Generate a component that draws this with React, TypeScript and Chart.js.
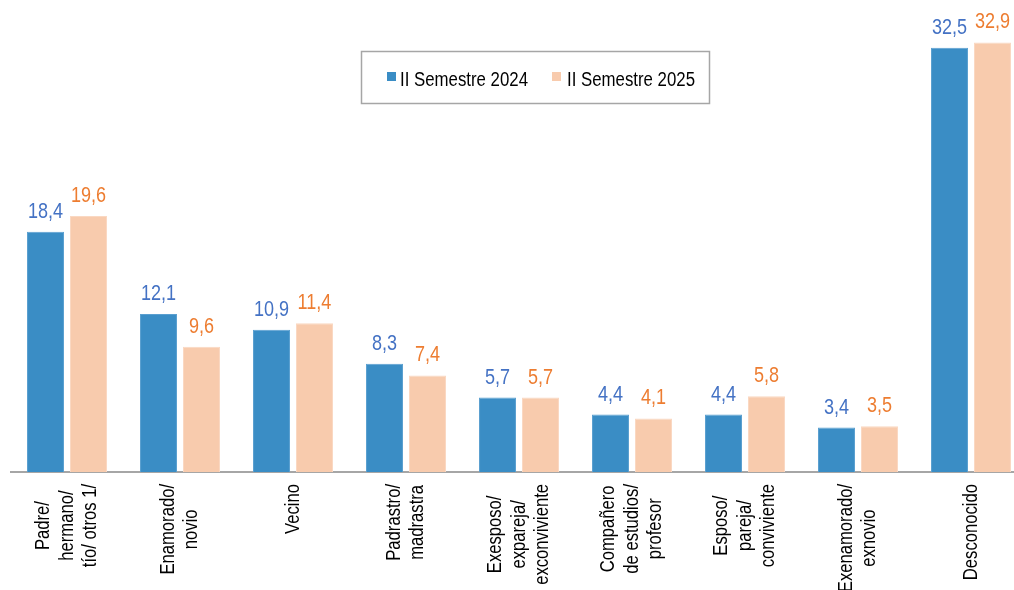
import React, { useEffect, useRef } from "react";
import { Chart, registerables } from "chart.js";

Chart.register(...registerables);

const categories: string[][] = [
  ["Padre/", "hermano/", "tío/ otros 1/"],
  ["Enamorado/", "novio"],
  ["Vecino"],
  ["Padrastro/", "madrastra"],
  ["Exesposo/", "expareja/", "exconviviente"],
  ["Compañero", "de estudios/", "profesor"],
  ["Esposo/", "pareja/", "conviviente"],
  ["Exenamorado/", "exnovio"],
  ["Desconocido"],
];
const seriesNames = ["II Semestre 2024", "II Semestre 2025"];
const values2024 = [18.4, 12.1, 10.9, 8.3, 5.7, 4.4, 4.4, 3.4, 32.5];
const values2025 = [19.6, 9.6, 11.4, 7.4, 5.7, 4.1, 5.8, 3.5, 32.9];

const barColors = ["#3A8DC5", "#F8CBAD"];
const barBorders = ["#5A9FD0", "#FAD8C2"];
const labelColors = ["#4472C4", "#ED7D31"];
const FONT = "'Liberation Sans', Arial, sans-serif";
const NARROW = 0.82;

const fmt = (v: number) => v.toFixed(1).replace(".", ",");

function narrowText(
  ctx: CanvasRenderingContext2D,
  text: string,
  x: number,
  y: number,
  rot = 0
) {
  ctx.save();
  ctx.translate(x, y);
  if (rot) ctx.rotate(rot);
  ctx.scale(NARROW, 1);
  ctx.fillText(text, 0, 0);
  ctx.restore();
}

const overlay = {
  id: "overlay",
  afterDatasetsDraw(chart: any) {
    const ctx: CanvasRenderingContext2D = chart.ctx;
    ctx.save();
    // data labels
    chart.data.datasets.forEach((ds: any, di: number) => {
      const meta = chart.getDatasetMeta(di);
      ctx.fillStyle = labelColors[di];
      ctx.font = `22px ${FONT}`;
      ctx.textAlign = "center";
      ctx.textBaseline = "alphabetic";
      meta.data.forEach((el: any, i: number) => {
        narrowText(ctx, fmt(ds.data[i]), el.x, el.y - 14);
      });
    });
    // category labels
    const xs = chart.scales.x;
    ctx.fillStyle = "#000";
    ctx.font = `20.3px ${FONT}`;
    categories.forEach((lines, i) => {
      const cx = xs.getPixelForValue(i);
      const maxLen = Math.max(...lines.map((l) => ctx.measureText(l).width * NARROW));
      const cy = chart.chartArea.bottom + 12 + maxLen / 2;
      ctx.textAlign = "center";
      ctx.textBaseline = "middle";
      lines.forEach((l, j) => {
        const off = (j - (lines.length - 1) / 2) * 23.5;
        narrowText(ctx, l, cx + off, cy, -Math.PI / 2);
      });
    });
    // legend
    ctx.strokeStyle = "#A6A6A6";
    ctx.lineWidth = 1.5;
    ctx.strokeRect(361.5, 51.5, 348, 52);
    ctx.font = `20.5px ${FONT}`;
    ctx.textAlign = "left";
    ctx.textBaseline = "alphabetic";
    const items = [
      { mx: 387, tx: 400 },
      { mx: 552, tx: 567 },
    ];
    items.forEach((it, k) => {
      ctx.fillStyle = barColors[k];
      ctx.fillRect(it.mx, 72, 9, 9);
      ctx.fillStyle = "#000";
      narrowText(ctx, seriesNames[k], it.tx, 86);
    });
    ctx.restore();
  },
};

export default function App() {
  const ref = useRef<HTMLCanvasElement>(null);
  useEffect(() => {
    const chart = new Chart(ref.current!, {
      type: "bar",
      data: {
        labels: categories.map((c) => c.join(" ")),
        datasets: [
          {
            label: seriesNames[0],
            data: values2024,
            backgroundColor: barColors[0],
            borderColor: barBorders[0],
            borderWidth: 1,
            barPercentage: 0.86,
            categoryPercentage: 0.761,
          },
          {
            label: seriesNames[1],
            data: values2025,
            backgroundColor: barColors[1],
            borderColor: barBorders[1],
            borderWidth: 1,
            barPercentage: 0.86,
            categoryPercentage: 0.761,
          },
        ],
      },
      options: {
        responsive: false,
        animation: false,
        devicePixelRatio: 1,
        layout: { padding: { left: 10.5, right: 12.5, top: 2, bottom: 118 } },
        scales: {
          x: {
            offset: true,
            grid: { display: false, drawTicks: false },
            ticks: { display: false },
            border: { display: true, color: "#A6A6A6", width: 2 },
          },
          y: { display: false, min: 0, max: 36 },
        },
        plugins: {
          legend: { display: false },
          tooltip: { enabled: false },
        },
      },
      plugins: [overlay],
    });
    return () => chart.destroy();
  }, []);
  return (
    <div
      style={{
        position: "fixed",
        left: 0,
        top: 0,
        width: 1014,
        height: 590,
        overflow: "hidden",
        background: "#fff",
      }}
    >
      <canvas ref={ref} width={1040} height={590} style={{ display: "block", width: 1040, height: 590 }} />
    </div>
  );
}
